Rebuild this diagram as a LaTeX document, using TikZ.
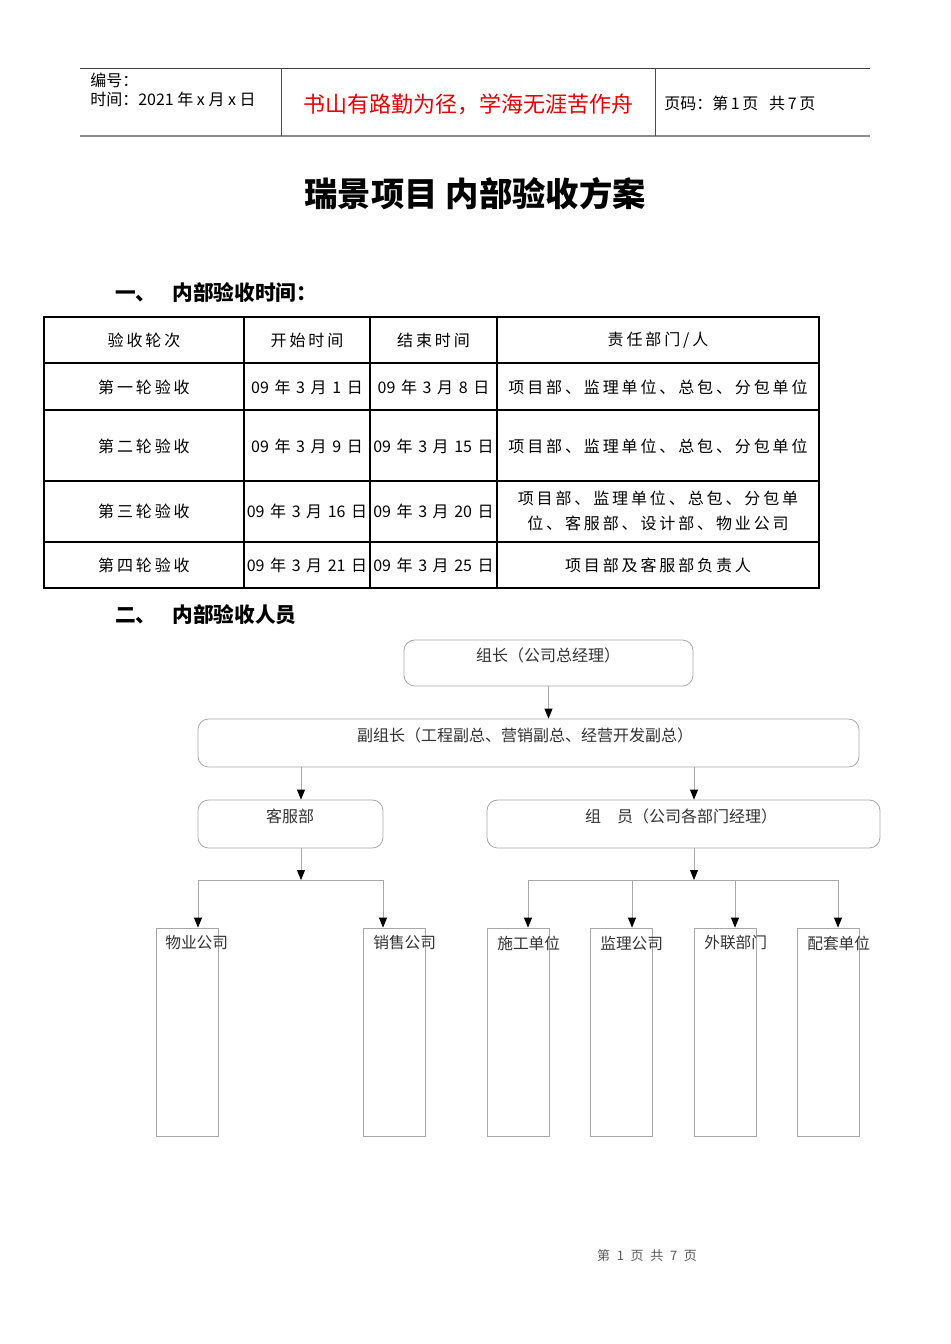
\documentclass[tikz,border=0pt]{standalone}
\usepackage{fontspec}
\setmainfont{Noto Sans CJK SC}
\newfontfamily\cjk{Noto Sans CJK SC}
\newfontfamily\cjksp[LetterSpace=18]{Noto Sans CJK SC}
\usetikzlibrary{arrows.meta}
\definecolor{boxgray}{HTML}{A8A8A8}
\definecolor{txtgray}{HTML}{333333}
\definecolor{hdrred}{HTML}{E60000}
\newcommand\dategap{\hspace{4.2pt}}
\newcommand\mydate[3]{#1\dategap 年\dategap #2\dategap 月\dategap #3\dategap 日}
\tikzset{
  hdr/.style={font=\cjk\fontsize{12}{14}\selectfont, anchor=west, inner sep=0pt},
  tbl/.style={font=\cjksp\fontsize{12}{18.5}\selectfont, inner sep=0pt, align=center},
  tdate/.style={font=\cjk\fontsize{12}{18.5}\selectfont, inner sep=0pt},
  sect/.style={font=\cjk\bfseries\fontsize{15.5}{18}\selectfont, anchor=west, inner sep=0pt},
  rbox/.style={draw=boxgray, line width=0.6pt, rounded corners=8pt, inner sep=0pt},
  leaf/.style={draw=boxgray, line width=0.6pt, inner sep=0pt, minimum width=62*0.75pt, minimum height=208*0.75pt},
  btxt/.style={font=\cjk\fontsize{12}{14}\selectfont, text=txtgray, inner sep=0pt},
  ltxt/.style={font=\cjk\fontsize{11.8}{14}\selectfont, text=txtgray, inner sep=0pt, anchor=west},
  arr/.style={draw=boxgray, line width=0.6pt, -{Triangle[length=7.5pt,width=6pt,color=black]}},
  conn/.style={draw=boxgray, line width=0.6pt},
  tline/.style={draw=black, line width=0.8pt}
}
\begin{document}
\begin{tikzpicture}[x=0.75pt,y=-0.75pt]
\useasboundingbox[fill=white] (0,0) rectangle (950,1344);

% ---------- header ----------
\draw[draw=black!75, line width=0.7pt] (80,68) -- (870,68);
\draw[draw=black!45, line width=1.5pt] (80,136) -- (870,136);
\draw[draw=black!70, line width=0.7pt] (281,68) -- (281,136);
\draw[draw=black!70, line width=0.7pt] (655,68) -- (655,136);
\node[hdr] (hno) at (90,80) {编号：};
\node[hdr] (htime) at (90,99) {时间：2021 年 x 月 x 日};
\node[font=\cjk\fontsize{16.5}{19}\selectfont, text=hdrred, inner sep=0pt] (hmotto) at (468,104) {书山有路勤为径，学海无涯苦作舟};
\node[hdr] (hpage) at (664,103) {页码：第\hspace{2pt}1\hspace{2pt}页\hspace{8pt}共\hspace{2pt}7\hspace{2pt}页};

% ---------- title ----------
\node[font=\cjk\bfseries\fontsize{25}{28}\selectfont, inner sep=0pt] (title) at (475,194) {瑞景项目\hspace{6pt}内部验收方案};

% ---------- section 1 ----------
\node[sect] (s1) at (115,293) {一、\hspace{12pt}内部验收时间：};

% table
\draw[tline] (44,317) rectangle (819,588);
\foreach \yy in {363,410,481,542} \draw[tline] (44,\yy) -- (819,\yy);
\foreach \xx in {244,370,497} \draw[tline] (\xx,317) -- (\xx,588);

\node[tbl] (t00) at (144,340) {验收轮次};
\node[tbl] (t01) at (307,340) {开始时间};
\node[tbl] (t02) at (433.5,340) {结束时间};
\node[tbl] (t03) at (658,340) {责任部门/人};

\node[tbl] (t10) at (144,387) {第一轮验收};
\node[tdate] (t11) at (307,387) {\mydate{09}{3}{1}};
\node[tdate] (t12) at (433.5,387) {\mydate{09}{3}{8}};
\node[tbl] (t13) at (658,387) {项目部、监理单位、总包、分包单位};

\node[tbl] (t20) at (144,446) {第二轮验收};
\node[tdate] (t21) at (307,446) {\mydate{09}{3}{9}};
\node[tdate] (t22) at (433.5,446) {\mydate{09}{3}{15}};
\node[tbl] (t23) at (658,446) {项目部、监理单位、总包、分包单位};

\node[tbl] (t30) at (144,511) {第三轮验收};
\node[tdate] (t31) at (307,511) {\mydate{09}{3}{16}};
\node[tdate] (t32) at (433.5,511) {\mydate{09}{3}{20}};
\node[tbl] (t33) at (658,511) {项目部、监理单位、总包、分包单\\位、客服部、设计部、物业公司};

\node[tbl] (t40) at (144,565) {第四轮验收};
\node[tdate] (t41) at (307,565) {\mydate{09}{3}{21}};
\node[tdate] (t42) at (433.5,565) {\mydate{09}{3}{25}};
\node[tbl] (t43) at (658,565) {项目部及客服部负责人};

% ---------- section 2 ----------
\node[sect] (s2) at (115,615) {二、\hspace{12pt}内部验收人员};

% org chart boxes
\node[rbox, minimum width=289*0.75pt, minimum height=46*0.75pt] (lead) at (548.5,663) {};
\node[btxt] (leadt) at (548,655) {组长（公司总经理）};
\node[rbox, minimum width=661*0.75pt, minimum height=48*0.75pt] (vice) at (528.5,743) {};
\node[btxt] (vicet) at (525,735) {副组长（工程副总、营销副总、经营开发副总）};
\node[rbox, minimum width=185*0.75pt, minimum height=48*0.75pt] (kf) at (290.5,824) {};
\node[btxt] (kft) at (290,816) {客服部};
\node[rbox, minimum width=393*0.75pt, minimum height=48*0.75pt] (zy) at (683.5,824) {};
\node[btxt] (zyt) at (681,816) {组\hspace{12pt}员（公司各部门经理）};

% leaves
\node[leaf] (wy) at (187,1032) {};
\node[leaf] (xs) at (394,1032) {};
\node[leaf] (sg) at (518,1032) {};
\node[leaf] (jl) at (621,1032) {};
\node[leaf] (wl) at (725,1032) {};
\node[leaf] (pt) at (828,1032) {};
\node[ltxt] (wyt) at (165,943) {物业公司};
\node[ltxt] (xst) at (373,943) {销售公司};
\node[ltxt] (sgt) at (497,943) {施工单位};
\node[ltxt] (jlt) at (600,943) {监理公司};
\node[ltxt] (wlt) at (704,943) {外联部门};
\node[ltxt] (ptt) at (807,943) {配套单位};

% connectors
\coordinate (v1) at (301,767);
\coordinate (v2) at (694,767);
\coordinate (kfo) at (301,848);
\coordinate (kfj) at (301,880);
\coordinate (zyo) at (694,848);
\coordinate (zyj) at (694,880);
\coordinate (kl) at (198,880);
\coordinate (kr) at (383,880);
\coordinate (z1) at (528,880);
\coordinate (z2) at (632,880);
\coordinate (z3) at (735,880);
\coordinate (z4) at (838,880);

\draw[arr] (lead.south) -- (lead.south |- vice.north);
\draw[arr] (v1) -- (v1 |- kf.north);
\draw[arr] (v2) -- (v2 |- zy.north);
\draw[arr] (kfo) -- (kfj);
\draw[arr] (zyo) -- (zyj);
\draw[conn] (kl) -- (kr);
\draw[arr] (kl) -- (kl |- wy.north);
\draw[arr] (kr) -- (kr |- xs.north);
\draw[conn] (z1) -- (z4);
\draw[arr] (z1) -- (z1 |- sg.north);
\draw[arr] (z2) -- (z2 |- jl.north);
\draw[arr] (z3) -- (z3 |- wl.north);
\draw[arr] (z4) -- (z4 |- pt.north);

% footer
\node[font=\cjk\fontsize{9.75}{12}\selectfont, text=black!65, inner sep=0pt] (foot) at (647,1256) {第\hspace{5pt}1\hspace{5pt}页\hspace{5pt}共\hspace{5pt}7\hspace{5pt}页};
\end{tikzpicture}
\end{document}
